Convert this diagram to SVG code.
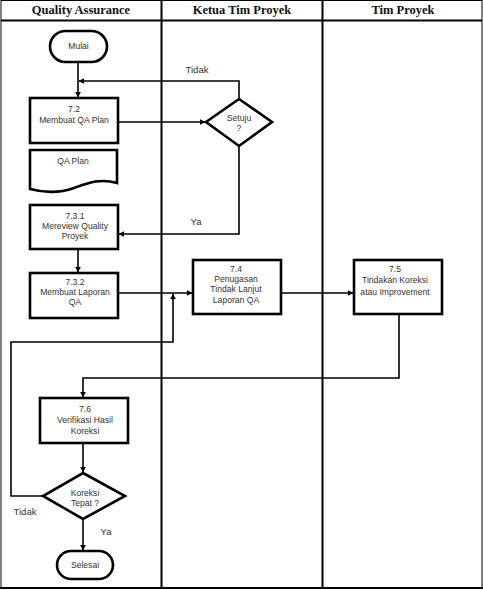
<svg xmlns="http://www.w3.org/2000/svg" width="483" height="590" viewBox="0 0 483 590">
<style>
.hdr{font-family:"Liberation Serif",serif;font-weight:bold;font-size:12.5px;fill:#111;text-anchor:middle}
.t{font-family:"Liberation Sans",Arial,sans-serif;font-size:8.6px;fill:#333;text-anchor:middle}
.lbl{font-family:"Liberation Sans",Arial,sans-serif;font-size:9.5px;fill:#333;text-anchor:middle}
.box{fill:#fff;stroke:#000;stroke-width:2.6}
.c{fill:none;stroke:#000;stroke-width:1.6}
.lane{stroke:#000;stroke-width:2;fill:none}
</style>
<defs>
<marker id="ah" viewBox="0 0 10 10" refX="9" refY="5" markerWidth="6" markerHeight="6" markerUnits="userSpaceOnUse" orient="auto">
<path d="M0,0 L10,5 L0,10 Z" fill="#000"/>
</marker>
</defs>
<rect width="483" height="590" fill="#fff"/>
<g id="lanes">
<rect x="1" y="0.5" width="481" height="587" fill="none" stroke="#000" stroke-width="1"/>
<line class="lane" x1="1" y1="20.5" x2="482" y2="20.5"/>
<line class="lane" x1="161.5" y1="0" x2="161.5" y2="588"/>
<line class="lane" x1="322.5" y1="0" x2="322.5" y2="588"/>
<line class="lane" x1="0" y1="588" x2="483" y2="588"/>
<text class="hdr" x="81" y="14">Quality Assurance</text>
<text class="hdr" x="242" y="14">Ketua Tim Proyek</text>
<text class="hdr" x="403" y="14">Tim Proyek</text>
</g>
<g id="connectors">
<line class="c" x1="78" y1="62" x2="78" y2="97" marker-end="url(#ah)"/>
<polyline class="c" points="239,99 239,81 79,81" marker-end="url(#ah)"/>
<line class="c" x1="118" y1="122" x2="205" y2="122" marker-end="url(#ah)"/>
<polyline class="c" points="239,146 239,234 119,234" marker-end="url(#ah)"/>
<line class="c" x1="78" y1="249" x2="78" y2="272" marker-end="url(#ah)"/>
<line class="c" x1="118" y1="293" x2="192" y2="293" marker-end="url(#ah)"/>
<line class="c" x1="281" y1="293" x2="353" y2="293" marker-end="url(#ah)"/>
<polyline class="c" points="399,314 399,378 83,378 83,397" marker-end="url(#ah)"/>
<line class="c" x1="83" y1="443" x2="83" y2="472" marker-end="url(#ah)"/>
<polyline class="c" points="43,496 11,496 11,342 173,342 173,294" marker-end="url(#ah)"/>
<line class="c" x1="83" y1="519" x2="83" y2="550" marker-end="url(#ah)"/>
<text class="lbl" x="197" y="73">Tidak</text>
<text class="lbl" x="196" y="225">Ya</text>
<text class="lbl" x="25" y="515">Tidak</text>
<text class="lbl" x="106" y="535">Ya</text>
</g>
<g id="mulai">
<rect class="box" x="50" y="31" width="57" height="31" rx="15.5"/>
<text class="t" x="78.5" y="49">Mulai</text>
</g>
<g id="n72">
<rect class="box" x="30" y="98" width="88" height="45"/>
<text class="t" x="74" y="112">7.2</text>
<text class="t" x="74" y="123">Membuat QA Plan</text>
</g>
<g id="setuju">
<polygon class="box" points="239,99 272,122 239,146 206,122"/>
<text class="t" x="239" y="121">Setuju</text>
<text class="t" x="239" y="131">?</text>
</g>
<g id="qaplan">
<path class="box" d="M30,150 H117 V183 C100,178 88,183 74,188 C60,193 45,193 30,189 Z"/>
<text class="t" x="73" y="164">QA Plan</text>
</g>
<g id="n731">
<rect class="box" x="30" y="205" width="88" height="44"/>
<text class="t" x="75" y="219">7.3.1</text>
<text class="t" x="75" y="229">Mereview Quality</text>
<text class="t" x="75" y="239">Proyek</text>
</g>
<g id="n732">
<rect class="box" x="30" y="273" width="88" height="45"/>
<text class="t" x="75" y="285">7.3.2</text>
<text class="t" x="75" y="295">Membuat Laporan</text>
<text class="t" x="75" y="305">QA</text>
</g>
<g id="n74">
<rect class="box" x="193" y="260" width="88" height="54"/>
<text class="t" x="236" y="272">7.4</text>
<text class="t" x="236" y="282">Penugasan</text>
<text class="t" x="236" y="292">Tindak Lanjut</text>
<text class="t" x="236" y="303">Laporan QA</text>
</g>
<g id="n75">
<rect class="box" x="354" y="260" width="88" height="54"/>
<text class="t" x="395" y="272">7.5</text>
<text class="t" x="395" y="283">Tindakan Koreksi</text>
<text class="t" x="395" y="295">atau Improvement</text>
</g>
<g id="n76">
<rect class="box" x="40" y="398" width="88" height="45"/>
<text class="t" x="85" y="412">7.6</text>
<text class="t" x="85" y="423">Verifikasi Hasil</text>
<text class="t" x="85" y="434">Koreksi</text>
</g>
<g id="koreksi">
<polygon class="box" points="83,473 125,496 83,519 43,496"/>
<text class="t" x="85" y="496">Koreksi</text>
<text class="t" x="85" y="506">Tepat ?</text>
</g>
<g id="selesai">
<rect class="box" x="57" y="551" width="56" height="28" rx="14"/>
<text class="t" x="85" y="568">Selesai</text>
</g>
</svg>
